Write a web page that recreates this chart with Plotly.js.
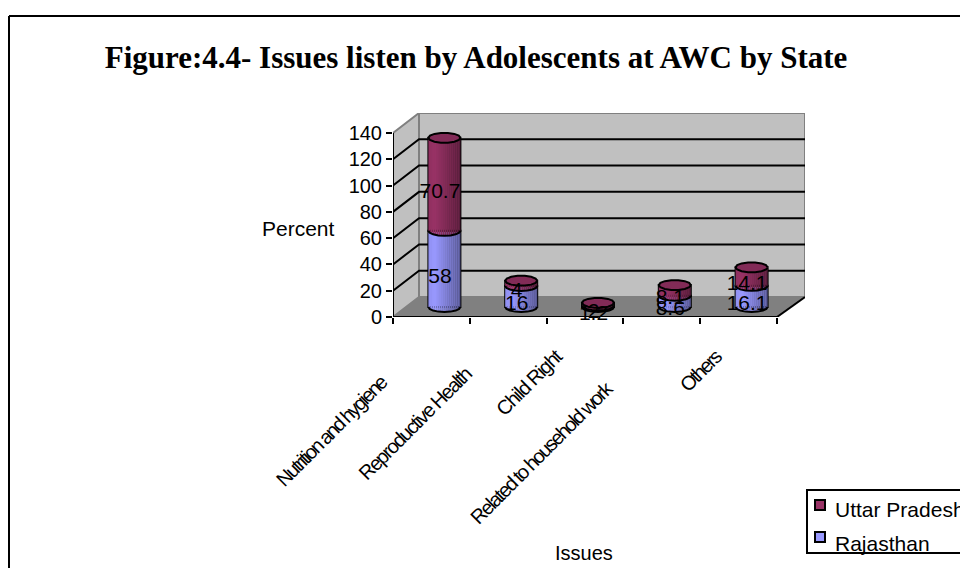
<!DOCTYPE html>
<html>
<head>
<meta charset="utf-8">
<script src="https://cdn.plot.ly/plotly-3.0.1.min.js"></script>
<style>
html,body{margin:0;padding:0;background:#fff;overflow:hidden}
#chart{width:960px;height:568px}
/* Tightly set slanted category labels */
.annotation[data-index="0"] text{letter-spacing:-2.05px}
.annotation[data-index="1"] text{letter-spacing:-1.7px}
.annotation[data-index="2"] text{letter-spacing:-1.4px}
.annotation[data-index="3"] text{letter-spacing:-1.9px}
.annotation[data-index="4"] text{letter-spacing:-2px}
</style>
</head>
<body>
<div id="chart"></div>
<script>
// Survey values, percent of adolescents
const categories = ["Nutrition and hygiene", "Reproductive Health", "Child Right", "Related to household work", "Others"];
const rajasthan = [58, 16, 1.2, 8.6, 16.1];
const uttarPradesh = [70.7, 4, 2, 8.1, 14.1];
const yTicks = [0, 20, 40, 60, 80, 100, 120, 140];
const chartTitle = "Figure:4.4- Issues listen by Adolescents at AWC by State";

// Pixel frame of the plot area
const plot = {left: 393, right: 805, top: 113, bottom: 317};
const unitX = 76.8;            // pixels per category
const unitY = 184 / 140;       // pixels per percent
const xMax = (plot.right - plot.left) / unitX;
const yMax = (plot.bottom - plot.top) / unitY;
const dx = px => px / unitX;
const dy = px => px / unitY;
const paperX = px => (px - plot.left) / (plot.right - plot.left);
const paperY = px => (plot.bottom - px) / (plot.bottom - plot.top);

// Oblique depth of the box and of the columns standing in its middle
const wallX = dx(26), wallY = dy(20);
const midX = dx(13), midY = dy(10);
const barW = dx(32), capRx = dx(16), capRy = dy(5);
const STRIPS = 16;

function shade(rgb, t) {
  const f = t < -0.6 ? 0.93 + (t + 1) * 0.175 : 1 - (t + 0.6) * 0.27;
  return "rgb(" + rgb.map(c => Math.round(c * f)).join(",") + ")";
}

const series = [
  {name: "Rajasthan", values: rajasthan, rgb: [153, 153, 255], below: categories.map(() => 0)},
  {name: "Uttar Pradesh", values: uttarPradesh, rgb: [153, 51, 102], below: rajasthan}
];

const centers = categories.map((_, i) => i + 0.5 + midX);
const traces = [];

series.forEach(s => {
  // Solid column with the dark side edges
  traces.push({
    type: "bar", name: s.name,
    x: centers, y: s.values, base: s.below.map(b => b + midY), width: barW,
    marker: {color: "rgb(" + s.rgb.join(",") + ")", line: {color: "#000", width: 2}},
    hoverinfo: "skip"
  });
  // Vertical strips give the round shading; each one is the same value, bent along the ellipse
  for (let k = 0; k < STRIPS; k++) {
    const t = -1 + (2 * k + 1) / STRIPS;
    const drop = capRy * Math.sqrt(1 - t * t);
    traces.push({
      type: "bar", name: s.name,
      x: centers.map(c => c + t * barW / 2), y: s.values,
      base: s.below.map(b => b + midY - drop), width: barW / STRIPS,
      marker: {color: shade(s.rgb, t), line: {width: 0}}, hoverinfo: "skip"
    });
  }
});

// Front arcs along the base of each segment
const arcX = [], arcY = [];
series.forEach(s => {
  centers.forEach((c, i) => {
    for (let a = 0; a <= 8; a++) {
      const th = Math.PI * a / 8;
      arcX.push(c - capRx * Math.cos(th));
      arcY.push(s.below[i] + midY - capRy * Math.sin(th));
    }
    arcX.push(null); arcY.push(null);
  });
});
traces.push({type: "scatter", mode: "lines", x: arcX, y: arcY,
  line: {color: "#000", width: 2}, cliponaxis: false, hoverinfo: "skip"});

// Top caps
const capX = [], capY = [];
centers.forEach((c, i) => {
  const top = rajasthan[i] + uttarPradesh[i] + midY;
  for (let a = 0; a <= 14; a++) {
    const th = 2 * Math.PI * a / 14;
    capX.push(c + capRx * Math.cos(th));
    capY.push(top + capRy * Math.sin(th));
  }
  capX.push(null); capY.push(null);
});
traces.push({type: "scatter", mode: "lines", x: capX, y: capY, fill: "toself",
  fillcolor: "#822b57", line: {color: "#000", width: 2},
  cliponaxis: false, hoverinfo: "skip"});

// Value labels, sitting slightly left of and below the middle of each segment
const sans = "Liberation Sans, Arial, sans-serif";
series.forEach(s => {
  traces.push({
    type: "scatter", mode: "text", cliponaxis: false, hoverinfo: "skip",
    x: centers.map(c => c - dx(4.5)),
    y: s.values.map((v, i) => s.below[i] + v / 2 + midY - dy(8.5)),
    text: s.values.map(String), textposition: "middle center",
    textfont: {family: sans, size: 21, color: "#000"}
  });
});

// Box: side wall, floor, back wall, grid lines, front axes
const rim = {color: "#808080", width: 2};
const shapes = [
  {type: "path", path: `M0 0 L${wallX} ${wallY} L${wallX} ${140 + wallY} L0 140 Z`,
   fillcolor: "#c0c0c0", line: rim, layer: "below"},
  {type: "rect", x0: wallX, x1: xMax, y0: wallY, y1: 140 + wallY,
   fillcolor: "#c0c0c0", line: rim, layer: "below"},
  {type: "path", path: `M0 0 L${wallX} ${wallY} L${xMax} ${wallY} L5 0 Z`,
   fillcolor: "#808080", line: {width: 0}, layer: "below"}
];
yTicks.filter(v => v > 0 && v < 140).forEach(v => {
  shapes.push({type: "path", path: `M0 ${v} L${wallX} ${v + wallY} L${xMax} ${v + wallY}`,
    line: {color: "#000", width: 2}, layer: "below"});
});
shapes.push(
  {type: "line", x0: 0, x1: 0, y0: 0, y1: 140, line: {color: "#000", width: 2}, layer: "below"},
  {type: "line", x0: 0, x1: 5, y0: 0, y1: 0, line: {color: "#000", width: 2}, layer: "below"},
  {type: "line", x0: 5, x1: xMax, y0: 0, y1: wallY, line: {color: "#000", width: 2}, layer: "below"}
);

// Page frame, its far sides run off the sheet
const frameLine = {color: "#000", width: 2};
const pageLine = (x0, y0, x1, y1) => ({type: "line", xref: "paper", yref: "paper",
  x0: paperX(x0), y0: paperY(y0), x1: paperX(x1), y1: paperY(y1), line: frameLine});
shapes.push(pageLine(9, 16, 9, 570), pageLine(9, 16, 962, 16));

// Legend box with its key squares, running off the right side of the sheet
const legendRows = [
  {name: "Uttar Pradesh", fill: "#993366", top: 500, textY: 509},
  {name: "Rajasthan", fill: "#9999ff", top: 532, textY: 543}
];
const pageRect = (x0, y0, x1, y1, fill) => ({type: "rect", xref: "paper", yref: "paper",
  x0: paperX(x0), y0: paperY(y0), x1: paperX(x1), y1: paperY(y1), fillcolor: fill, line: frameLine});
shapes.push(pageRect(807, 490, 965, 553, "#fff"));
legendRows.forEach(r => shapes.push(pageRect(815, r.top, 825, r.top + 10, r.fill)));

// Anchor points of the slanted category labels
const labelEnds = [[409, 354], [489, 349], [574, 338], [636, 358], [732, 339]];
const annotations = categories.map((c, i) => ({
  text: c, xref: "paper", yref: "paper", showarrow: false,
  x: paperX(labelEnds[i][0]), y: paperY(labelEnds[i][1]),
  xanchor: "right", yanchor: "top", textangle: -45,
  font: {family: sans, size: 20, color: "#000"}
}));
const freeText = (text, x, y, size, anchor) => ({
  text, xref: "paper", yref: "paper", showarrow: false, x: paperX(x), y: paperY(y),
  xanchor: anchor || "center", yanchor: "middle", font: {family: sans, size, color: "#000"}
});
annotations.push(freeText("Percent", 298, 228, 21), freeText("Issues", 584, 553, 20));
legendRows.forEach(r => annotations.push(freeText(r.name, 833, r.textY, 21, "left")));

const layout = {
  width: 960, height: 568,
  margin: {l: plot.left, r: 960 - plot.right, t: plot.top, b: 568 - plot.bottom, pad: 0, autoexpand: false},
  paper_bgcolor: "#fff", plot_bgcolor: "rgba(0,0,0,0)",
  barmode: "overlay", showlegend: false,
  title: {text: chartTitle, x: 476 / 960, y: 1 - 57 / 568, xanchor: "center", yanchor: "middle",
    font: {family: "Liberation Serif, Times New Roman, serif", size: 31, weight: 700, color: "#000"}},
  xaxis: {range: [0, xMax], tickmode: "array", tickvals: [0, 1, 2, 3, 4, 5], showticklabels: false,
    ticks: "outside", ticklen: 6, tickwidth: 2, tickcolor: "#000", showgrid: false, zeroline: false, showline: false},
  yaxis: {range: [0, yMax], tickmode: "array", tickvals: yTicks, ticktext: yTicks.map(String),
    ticks: "outside", ticklen: 6, tickwidth: 2, tickcolor: "#000", showgrid: false, zeroline: false, showline: false,
    tickfont: {family: sans, size: 20, color: "#000"}},
  shapes, annotations
};

Plotly.newPlot("chart", traces, layout, {staticPlot: true, displayModeBar: false});
</script>
</body>
</html>
